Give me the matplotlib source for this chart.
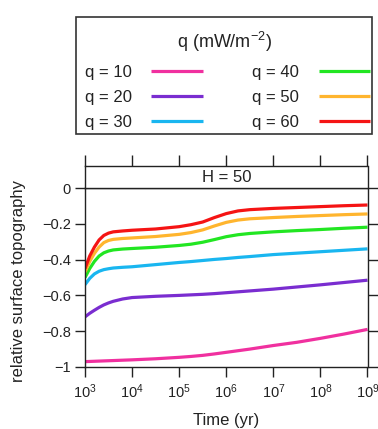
import matplotlib
matplotlib.use("Agg")
import matplotlib.pyplot as plt
from matplotlib.patches import Rectangle
import numpy as np

plt.rcParams['font.family'] = ['Liberation Sans', 'DejaVu Sans']
plt.rcParams['mathtext.fontset'] = 'custom'
plt.rcParams['mathtext.rm'] = 'Liberation Sans'
plt.rcParams['mathtext.it'] = 'Liberation Sans:italic'

# ---- data ----
log_time = [3.0, 3.1, 3.2, 3.3, 3.4, 3.5, 3.6, 3.8, 4.0, 4.5, 5.0, 5.25, 5.5,
            5.75, 6.0, 6.25, 6.5, 7.0, 7.5, 8.0, 8.5, 9.0]
q10 = [-0.970, -0.969, -0.968, -0.967, -0.966, -0.965, -0.964, -0.962, -0.960, -0.954,
       -0.946, -0.941, -0.935, -0.927, -0.918, -0.909, -0.900, -0.880, -0.862, -0.840,
       -0.816, -0.790]
q20 = [-0.720, -0.700, -0.683, -0.667, -0.653, -0.642, -0.633, -0.620, -0.612, -0.605,
       -0.600, -0.597, -0.594, -0.590, -0.585, -0.580, -0.575, -0.565, -0.553, -0.541,
       -0.528, -0.515]
q30 = [-0.540, -0.505, -0.480, -0.465, -0.456, -0.451, -0.447, -0.443, -0.440, -0.428,
       -0.416, -0.411, -0.405, -0.399, -0.394, -0.388, -0.383, -0.372, -0.364, -0.356,
       -0.348, -0.340]
q40 = [-0.500, -0.450, -0.410, -0.380, -0.362, -0.352, -0.346, -0.341, -0.338, -0.331,
       -0.321, -0.314, -0.303, -0.288, -0.272, -0.261, -0.254, -0.245, -0.238, -0.232,
       -0.225, -0.219]
q50 = [-0.470, -0.410, -0.365, -0.330, -0.305, -0.293, -0.287, -0.282, -0.279, -0.271,
       -0.259, -0.249, -0.234, -0.212, -0.192, -0.179, -0.172, -0.165, -0.159, -0.154,
       -0.149, -0.145]
q60 = [-0.450, -0.380, -0.330, -0.290, -0.265, -0.252, -0.245, -0.240, -0.236, -0.229,
       -0.216, -0.205, -0.190, -0.165, -0.143, -0.128, -0.121, -0.114, -0.109, -0.104,
       -0.099, -0.095]

series = [q10, q20, q30, q40, q50, q60]
labels = ['q = 10', 'q = 20', 'q = 30', 'q = 40', 'q = 50', 'q = 60']
colors = ['#F0309F', '#7A2DD0', '#19B6F0', '#22E622', '#FFB52E', '#F51414']

x_exponents = [3, 4, 5, 6, 7, 8, 9]
y_ticks = [0, -0.2, -0.4, -0.6, -0.8, -1]
y_ticklabels = ['0', '\u22120.2', '\u22120.4', '\u22120.6', '\u22120.8', '\u22121']

# ---- figure ----
W, H = 378, 429
fig = plt.figure(figsize=(W / 100, H / 100), dpi=100)

def fx(px):
    return px / W

def fy(py):
    return 1 - py / H

left, right = 85, 367.5
top_data, bottom = 188, 367
strip_top = 166
TXT = '#222222'

ax = fig.add_axes([fx(left), fy(bottom), fx(right) - fx(left), fy(top_data) - fy(bottom)])
time = [10 ** e for e in log_time]
handles = []
for vals, lab, col in zip(series, labels, colors):
    h, = ax.plot(time, vals, color=col, lw=2.3, label=lab, solid_capstyle='butt')
    handles.append(h)

ax.set_xscale('log')
ax.set_xlim(10 ** 3, 10 ** 9)
ax.set_ylim(-1, 0)
ax.set_xticks([10 ** e for e in x_exponents])
ax.set_xticklabels([r'$10^{%d}$' % e for e in x_exponents])
ax.minorticks_off()
ax.set_yticks(y_ticks)
ax.set_yticklabels(y_ticklabels)
ax.tick_params(axis='both', direction='out', length=7, width=1, labelsize=10.5,
               color=TXT, labelcolor=TXT)
ax.tick_params(axis='y', right=True, pad=3)
ax.tick_params(axis='x', pad=4)
for s in ax.spines.values():
    s.set_linewidth(1)
    s.set_color(TXT)
ax.set_xlabel('Time (yr)', fontsize=12, color=TXT)
ax.set_ylabel('relative surface topography', fontsize=12, color=TXT)
ax.xaxis.set_label_coords(0.5, -(421 - bottom) / (bottom - top_data), transform=ax.transAxes)
ax.yaxis.set_label_coords((19 - left) / (right - left), 0.48, transform=ax.transAxes)
ax.xaxis.label.set_va('center')
ax.yaxis.label.set_va('center')

# strip
sax = fig.add_axes([fx(left), fy(top_data), fx(right) - fx(left), fy(strip_top) - fy(top_data)],
                   sharex=ax)
sax.set_yticks([])
sax.tick_params(axis='x', which='both', bottom=False, top=True, labelbottom=False,
                labeltop=False, direction='out', length=8, width=1, color=TXT)
sax.minorticks_off()
for s in sax.spines.values():
    s.set_linewidth(1)
    s.set_color(TXT)
sax.text(0.5, 0.47, 'H = 50', transform=sax.transAxes, ha='center', va='center',
         fontsize=12, color=TXT)

# legend box
bx0, by0, bx1, by1 = 76, 17, 372, 134
fig.patches.append(Rectangle((fx(bx0), fy(by1)), fx(bx1) - fx(bx0), fy(by0) - fy(by1),
                             transform=fig.transFigure, fill=False, lw=1.2,
                             edgecolor='#333333'))
fig.text(fx((bx0 + bx1) / 2), fy(42), r'q (mW/m$^{-2}$)', ha='center', va='center',
         fontsize=13, color=TXT)
leg = fig.legend(handles=handles, labels=labels, ncol=2, frameon=False,
                 markerfirst=False, fontsize=12, handlelength=3.1,
                 handletextpad=1.15, columnspacing=2.98, labelspacing=0.6,
                 loc='upper left', bbox_to_anchor=(fx(85), fy(64.8)),
                 borderaxespad=0, borderpad=0)
for t in leg.get_texts():
    t.set_color(TXT)

fig.savefig('out.png', dpi=100)
